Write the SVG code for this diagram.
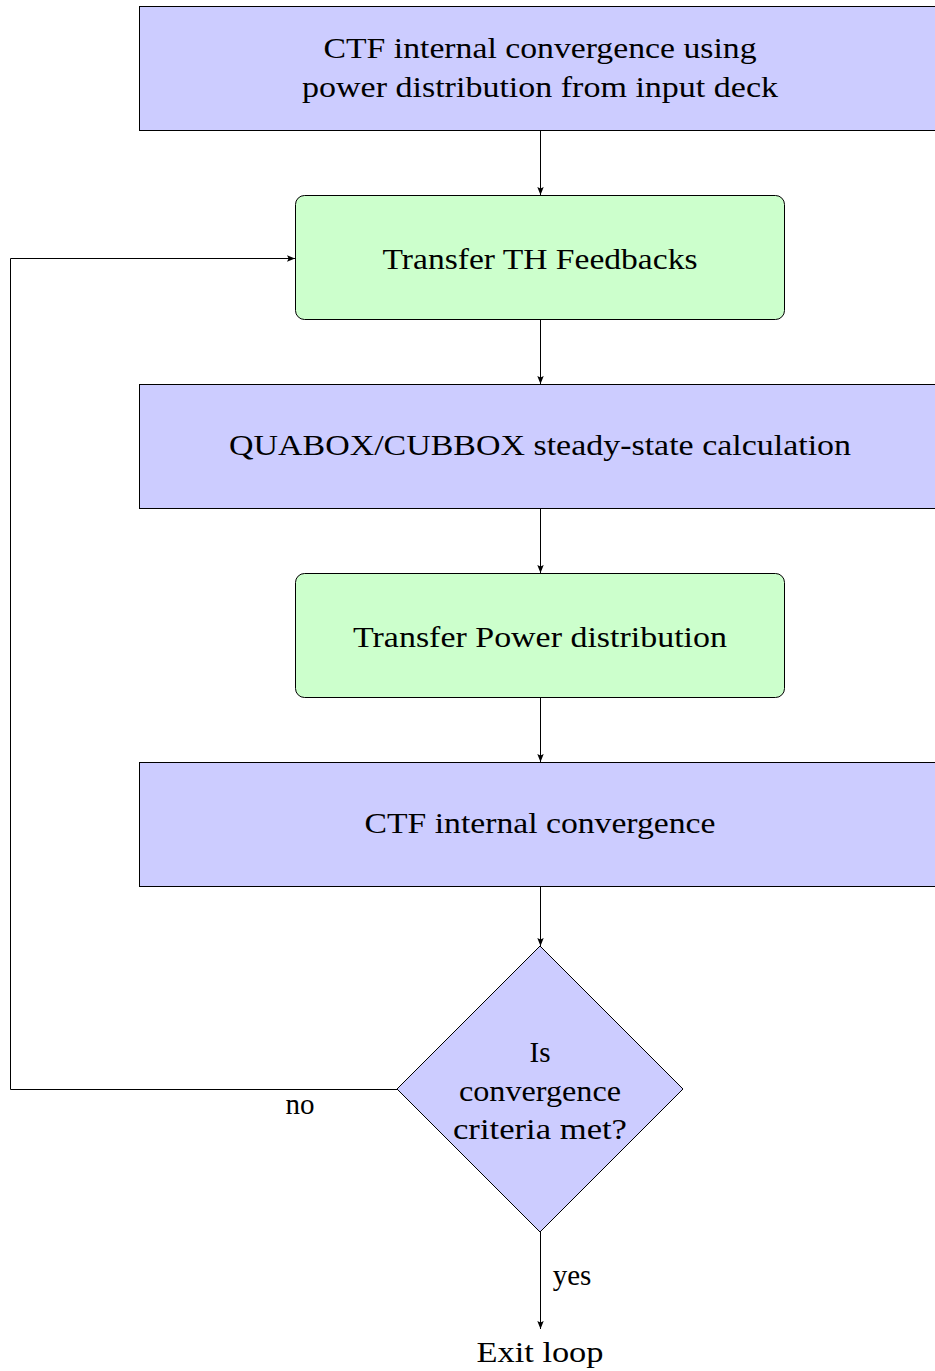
<svg xmlns="http://www.w3.org/2000/svg" width="935" height="1371" viewBox="0 0 935 1371">
<style>
.blue{fill:#ccccff;stroke:#000;stroke-width:1}
.green{fill:#ccffcc;stroke:#000;stroke-width:1}
.t{font-family:"Liberation Serif","DejaVu Serif",serif;font-size:29px;fill:#000;text-anchor:middle}
.c{fill:none;stroke:#000;stroke-width:1}
</style>
<defs>
<marker id="ah" viewBox="0 0 10 10" refX="10" refY="5" markerWidth="8" markerHeight="8" markerUnits="userSpaceOnUse" orient="auto">
<path d="M0,1 L10,5 L0,9 L2,5 Z" fill="#000"/>
</marker>
</defs>
<g id="n1">
<rect class="blue" x="139.5" y="6.5" width="802" height="124"/>
<text class="t" x="540" y="58" textLength="433" lengthAdjust="spacingAndGlyphs">CTF internal convergence using</text>
<text class="t" x="540" y="97" textLength="476" lengthAdjust="spacingAndGlyphs">power distribution from input deck</text>
</g>
<g id="n2">
<rect class="green" x="295.5" y="195.5" width="489" height="124" rx="9"/>
<text class="t" x="540" y="269" textLength="315" lengthAdjust="spacingAndGlyphs">Transfer TH Feedbacks</text>
</g>
<g id="n3">
<rect class="blue" x="139.5" y="384.5" width="802" height="124"/>
<text class="t" x="540" y="455" textLength="622" lengthAdjust="spacingAndGlyphs">QUABOX/CUBBOX steady-state calculation</text>
</g>
<g id="n4">
<rect class="green" x="295.5" y="573.5" width="489" height="124" rx="9"/>
<text class="t" x="540" y="647" textLength="374" lengthAdjust="spacingAndGlyphs">Transfer Power distribution</text>
</g>
<g id="n5">
<rect class="blue" x="139.5" y="762.5" width="802" height="124"/>
<text class="t" x="540" y="833" textLength="351" lengthAdjust="spacingAndGlyphs">CTF internal convergence</text>
</g>
<g id="n6">
<polygon class="blue" points="540,946 683,1089 540,1232 397,1089"/>
<text class="t" x="540" y="1062">Is</text>
<text class="t" x="540" y="1101" textLength="162" lengthAdjust="spacingAndGlyphs">convergence</text>
<text class="t" x="540" y="1139" textLength="174" lengthAdjust="spacingAndGlyphs">criteria met?</text>
</g>
<g id="n7">
<text class="t" x="540" y="1362" textLength="127" lengthAdjust="spacingAndGlyphs">Exit loop</text>
</g>
<g id="connectors">
<line class="c" x1="540.5" y1="131" x2="540.5" y2="195" marker-end="url(#ah)"/>
<line class="c" x1="540.5" y1="320" x2="540.5" y2="384" marker-end="url(#ah)"/>
<line class="c" x1="540.5" y1="509" x2="540.5" y2="573" marker-end="url(#ah)"/>
<line class="c" x1="540.5" y1="698" x2="540.5" y2="762" marker-end="url(#ah)"/>
<line class="c" x1="540.5" y1="887" x2="540.5" y2="946" marker-end="url(#ah)"/>
<line class="c" x1="540.5" y1="1232" x2="540.5" y2="1329" marker-end="url(#ah)"/>
<polyline class="c" points="397,1089.5 10.5,1089.5 10.5,258.5 295,258.5" marker-end="url(#ah)"/>
<text class="t" x="300" y="1114">no</text>
<text class="t" x="572" y="1285">yes</text>
</g>
</svg>
